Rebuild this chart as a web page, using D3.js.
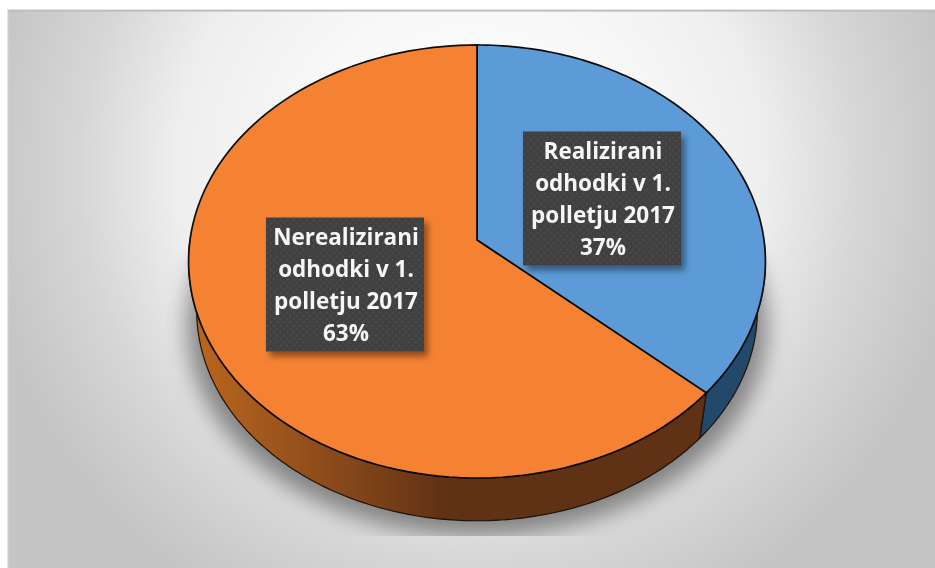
<!DOCTYPE html>
<html>
<head>
<meta charset="utf-8">
<script src="https://cdnjs.cloudflare.com/ajax/libs/d3/7.8.5/d3.min.js"></script>
<style>html,body{margin:0;padding:0;background:#fff}svg{display:block}</style>
</head>
<body>
<script>
const categories = ["Realizirani odhodki v 1. polletju 2017", "Nerealizirani odhodki v 1. polletju 2017"];
const labelLines = [["Realizirani", "odhodki v 1.", "polletju 2017"], ["Nerealizirani", "odhodki v 1.", "polletju 2017"]];
const values = [36.6, 63.4];
const topColors = ["#5b9bd7", "#f58232"];
const sideColors = ["#24496b", "url(#sideOrange)"];

const W = 935, H = 568;
const centre = {x: 477, y: 240};
const persp = {k: -0.0993, ax: 287, ay: 214.4};
const rim = {scale: 0.972, drop: 49.4};
const boxes = [{cx: 602, cy: 198.5}, {cx: 345, cy: 284.5}];
const boxW = 158, boxH = 134;

const svg = d3.select("body").append("svg").attr("width", W).attr("height", H);
const defs = svg.append("defs");

const bg = defs.append("radialGradient").attr("id", "bg").attr("gradientUnits", "userSpaceOnUse")
  .attr("cx", 470).attr("cy", 170).attr("r", 490);
[[0, "#ffffff"], [0.35, "#f8f8f8"], [0.6, "#eeeeee"], [0.7, "#e2e2e2"], [0.8, "#d6d6d6"], [1, "#c5c5c5"]].forEach(s =>
  bg.append("stop").attr("offset", s[0]).attr("stop-color", s[1]));

const so = defs.append("linearGradient").attr("id", "sideOrange").attr("gradientUnits", "userSpaceOnUse")
  .attr("x1", 190).attr("x2", 450).attr("y1", 0).attr("y2", 0);
[[0, "#bc671f"], [0.55, "#8a4a1c"], [1, "#5f3012"]].forEach(s =>
  so.append("stop").attr("offset", s[0]).attr("stop-color", s[1]));

defs.append("filter").attr("id", "blurShadow").attr("x", "-20%").attr("y", "-20%").attr("width", "140%").attr("height", "140%")
  .append("feGaussianBlur").attr("stdDeviation", 11);
defs.append("filter").attr("id", "soft").append("feGaussianBlur").attr("stdDeviation", 0.45);
const ds = defs.append("filter").attr("id", "boxShadow").attr("x", "-10%").attr("y", "-10%").attr("width", "125%").attr("height", "125%");
ds.append("feDropShadow").attr("dx", 4).attr("dy", 5).attr("stdDeviation", 3).attr("flood-color", "#000").attr("flood-opacity", 0.42);
defs.append("clipPath").attr("id", "shadowClip").append("rect").attr("x", 165).attr("y", 250).attr("width", 640).attr("height", 286);

const pat = defs.append("pattern").attr("id", "dots").attr("patternUnits", "userSpaceOnUse").attr("width", 6.6).attr("height", 6.6);
pat.append("rect").attr("width", 6.6).attr("height", 6.6).attr("fill", "#3f3f3f");
pat.append("circle").attr("cx", 1.65).attr("cy", 1.65).attr("r", 1.1).attr("fill", "#4d4d4d");
pat.append("circle").attr("cx", 4.95).attr("cy", 4.95).attr("r", 1.1).attr("fill", "#4d4d4d");

// background panel
svg.append("rect").attr("x", 7.5).attr("y", 9.5).attr("width", W).attr("height", H).attr("fill", "url(#bg)");
svg.append("rect").attr("x", 7).attr("y", 9).attr("width", W).attr("height", 1.2).attr("fill", "#e4e4e4");
svg.append("rect").attr("x", 8).attr("y", 10).attr("width", W).attr("height", 1.6).attr("fill", "#bdbdbd");
svg.append("rect").attr("x", 7).attr("y", 10).attr("width", 1.2).attr("height", H).attr("fill", "#e6e6e6");

// perspective projection of the pie disc; angle 0 = top, clockwise
function project(a, depth) {
  const ux = Math.sin(a), uy = -Math.cos(a), w = 1 + persp.k * uy;
  const px = persp.ax * ux / w, py = persp.ay * uy / w;
  return depth
    ? [centre.x + px * rim.scale, centre.y + py * rim.scale + rim.drop * depth]
    : [centre.x + px, centre.y + py];
}
const line = d3.line();
function sample(a0, a1, depth, n = 120) {
  return d3.range(n + 1).map(i => project(a0 + (a1 - a0) * i / n, depth));
}

const arcs = d3.pie().sort(null).value(d => d)(values);
const visibleFrom = Math.PI / 2, visibleTo = Math.PI * 1.5;

const g = svg.append("g").attr("filter", "url(#soft)");

// cast shadow
svg.insert("g", "g").attr("clip-path", "url(#shadowClip)")
  .append("path")
  .attr("d", line(sample(0, Math.PI * 2, 1.3, 240).map(p => [centre.x + (p[0] - centre.x) * 1.035, p[1]])) + "Z")
  .attr("fill", "#000").attr("fill-opacity", 0.42).attr("filter", "url(#blurShadow)");

// side walls
g.selectAll("path.side").data(arcs).join("path").attr("class", "side")
  .attr("d", d => {
    const a0 = Math.max(d.startAngle, visibleFrom), a1 = Math.min(d.endAngle, visibleTo);
    return line(sample(a0, a1, 0).concat(sample(a0, a1, 1).reverse())) + "Z";
  })
  .attr("fill", (d, i) => sideColors[i])
  .attr("stroke", "#1c1208").attr("stroke-width", 1.2).attr("stroke-linejoin", "round");

// top faces
g.selectAll("path.top").data(arcs).join("path").attr("class", "top")
  .attr("d", d => line([[centre.x, centre.y]].concat(sample(d.startAngle, d.endAngle, 0))) + "Z")
  .attr("fill", (d, i) => topColors[i])
  .attr("stroke", "#0a0a0a").attr("stroke-width", 1.7).attr("stroke-linejoin", "miter");

// data labels
const fmt = d3.format(".0f");
const lab = svg.selectAll("g.label").data(arcs).join("g").attr("class", "label")
  .attr("transform", (d, i) => `translate(${boxes[i].cx},${boxes[i].cy})`);
lab.append("rect").attr("x", -boxW / 2).attr("y", -boxH / 2).attr("width", boxW).attr("height", boxH)
  .attr("fill", "url(#dots)").attr("filter", "url(#boxShadow)");
lab.append("text").attr("text-anchor", "middle").attr("fill", "#f6f6f6")
  .attr("font-family", "'Open Sans', sans-serif").attr("font-weight", 700).attr("font-size", 22.5)
  .attr("filter", "url(#soft)")
  .selectAll("tspan").data((d, i) => labelLines[i].concat(fmt(d.value) + "%")).join("tspan")
  .attr("x", 1).attr("y", (d, i) => -39.5 + i * 32)
  .text(d => d);
</script>
</body>
</html>
